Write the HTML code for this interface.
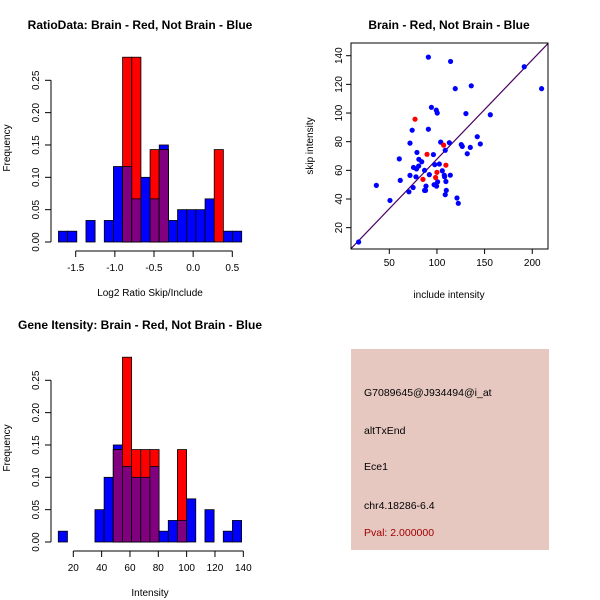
<!DOCTYPE html>
<html><head><meta charset="utf-8"><style>
body{margin:0;background:#fff;}
svg{display:block;font-family:"Liberation Sans",Arial,sans-serif;}
</style></head><body>
<svg id="chart" width="600" height="600" viewBox="0 0 600 600">
<rect width="600" height="600" fill="#fff"/>
<g>
<rect x="351" y="349" width="198" height="201" fill="#e6c8c1"/>
<text x="364" y="396" font-size="10.5">G7089645@J934494@i_at</text>
<text x="364" y="434" font-size="10.5">altTxEnd</text>
<text x="364" y="470" font-size="10.5">Ece1</text>
<text x="364" y="509" font-size="10.5">chr4.18286-6.4</text>
<text x="364" y="536" font-size="10.5" fill="#a00000">Pval: 2.000000</text>
</g>
</svg>
<script>
// Ratio histogram data
const ratioStart = -1.72, ratioWidth = 0.117;
const ratioBlue = [0.0167,0.0167,0,0.0333,0,0.0333,0.1167,0.1167,0.0667,0.1,0.0667,0.15,0.0333,0.05,0.05,0.05,0.0667,0,0.0167,0.0167];
const ratioRed  = [0,0,0,0,0,0,0,0.2857,0.2857,0,0.1429,0.1429,0,0,0,0,0,0.1429,0,0];
const ratioXTicks = [-1.5,-1.0,-0.5,0.0,0.5];
const ratioXLabels = ["-1.5","-1.0","-0.5","0.0","0.5"];
// Intensity histogram data
const intStart = 9.4, intWidth = 6.47;
const intBlue = [0.0167,0,0,0,0.05,0.1,0.15,0.1167,0.1,0.1,0.1167,0.0167,0.0333,0.0333,0.0667,0,0.05,0,0.0167,0.0333];
const intRed  = [0,0,0,0,0,0,0.1429,0.2857,0.1429,0.1429,0.1429,0,0,0.1429,0,0,0,0,0,0];
const intXTicks = [20,40,60,80,100,120,140];
const freqTicks = [0,0.05,0.10,0.15,0.20,0.25];
const freqLabels = ["0.00","0.05","0.10","0.15","0.20","0.25"];
// Scatter data
const blueX = [17.8,36.4,50.7,60.5,61.5,71.7,71.7,74,75,70.6,75.4,78,79,78.5,81,80.8,84,87,87,88.5,88,91,91,92,94.2,96.3,97.7,97,99.3,100.3,99.6,100.7,102.5,103.9,105.6,107.7,108,108.7,109.4,109.8,108.7,113,114,114.3,119.2,121,122.4,125.5,126.6,131.8,130.4,135,136,142.3,145.5,156,191.6,209.8];
const blueY = [10,49.5,39,68,53,56.5,79,88,48,45,62,55.5,72.5,61,67.7,63,66,60,46,49,46,139,88.7,57,104,71,64,50,102,100,49,52,64.4,79.7,59.7,56.6,55.5,74,52.2,46,43,79.3,56.6,136,117,40.7,37,78,76.7,71.6,99.6,76,119,83.5,78.4,98.8,132.3,117];
const redX = [77,89.6,85.3,98.6,100,107,109.4];
const redY = [95.7,71.2,53.7,55,58.6,77.6,63.6];
const lineX = [10, 216.5];
const lineY = [5.5, 148.5];
const scXTicks = [50,100,150,200];
const scYTicks = [20,40,60,80,100,120,140];

const svg = document.getElementById('chart');
const NS = 'http://www.w3.org/2000/svg';
function mk(tag, attrs, parent){const e=document.createElementNS(NS,tag);for(const k in attrs)e.setAttribute(k,attrs[k]);(parent||svg).appendChild(e);return e;}
function txt(s, attrs, parent){const e=mk('text',attrs,parent);e.textContent=s;return e;}

function histogram(cfg){
  const g = mk('g',{});
  
  
  const xs = v => cfg.x0px + (v - cfg.x0val) * cfg.xscale;
  const ys = v => cfg.y0px - v * cfg.yscale;
  const n = cfg.blue.length;
  for(let i=0;i<n;i++){
    const a = cfg.start + i*cfg.width, b = a + cfg.width;
    const x = xs(a), w = xs(b) - xs(a);
    const bv = cfg.blue[i], rv = cfg.red[i];
    if(bv>0){const r=mk('rect',{x:x,y:ys(bv),width:w,height:ys(0)-ys(bv),fill:'#0000ff',stroke:'#000','stroke-width':0.8},g);
      
      }
    if(rv>0){const r=mk('rect',{x:x,y:ys(rv),width:w,height:ys(0)-ys(rv),fill:'#ff0000',stroke:'#000','stroke-width':0.8},g);
      
      }
    const m = Math.min(bv,rv);
    if(m>0){const r=mk('rect',{x:x,y:ys(m),width:w,height:ys(0)-ys(m),fill:'#800080',stroke:'#000','stroke-width':0.8},g);
      
      }
  }
  const yax = mk('g',{},g);
  
  
  const ax = cfg.yAxisX;
  mk('line',{x1:ax,x2:ax,y1:ys(0),y2:ys(0.25),stroke:'#000'},yax);
  freqTicks.forEach((t,i)=>{
    mk('line',{x1:ax-6,x2:ax,y1:ys(t),y2:ys(t),stroke:'#000'},yax);
    const tx=ax-12, ty=ys(t);
    txt(freqLabels[i],{x:tx,y:ty,'font-size':10,'text-anchor':'middle',transform:`rotate(-90 ${tx} ${ty})`},yax);
  });
  const xax = mk('g',{},g);
  
  
  const ay = cfg.xAxisY;
  mk('line',{x1:xs(cfg.xticks[0]),x2:xs(cfg.xticks[cfg.xticks.length-1]),y1:ay,y2:ay,stroke:'#000'},xax);
  cfg.xticks.forEach((t,i)=>{
    mk('line',{x1:xs(t),x2:xs(t),y1:ay,y2:ay+6,stroke:'#000'},xax);
    txt(cfg.xlabels[i],{x:xs(t),y:ay+20,'font-size':10,'text-anchor':'middle'},xax);
  });
  const xt = txt(cfg.xtitle,{x:(cfg.xcenter),y:ay+45,'font-size':10,'text-anchor':'middle'},g);
  
  
  const yt = txt('Frequency',{x:10,y:cfg.ycenter,'font-size':10,'text-anchor':'middle',transform:`rotate(-90 10 ${cfg.ycenter})`},g);
  
  
  const tt = txt(cfg.title,{x:cfg.titleX,y:cfg.titleY,'font-size':12,'font-weight':'bold','text-anchor':'middle'},g);
  
  
}

histogram({name:'ratio-histogram',start:ratioStart,width:ratioWidth,blue:ratioBlue,red:ratioRed,
  x0val:-1.5,x0px:75.7,xscale:78.3,y0px:242,yscale:646.8,yAxisX:51,xAxisY:251,
  xticks:ratioXTicks,xlabels:ratioXLabels,xtitle:'Log2 Ratio Skip/Include',xcenter:150,ycenter:148,
  title:'RatioData: Brain - Red, Not Brain - Blue',titleX:140,titleY:29});
histogram({name:'intensity-histogram',start:intStart,width:intWidth,blue:intBlue,red:intRed,
  x0val:20,x0px:73.3,xscale:1.4167,y0px:542,yscale:646.8,yAxisX:51,xAxisY:551,
  xticks:intXTicks,xlabels:intXTicks.map(String),xtitle:'Intensity',xcenter:150,ycenter:448,
  title:'Gene Itensity: Brain - Red, Not Brain - Blue',titleX:140,titleY:329});

(function(){
  const g = mk('g',{});
  
  
  const xs = v => 389.3 + (v-50)*0.953;
  const ys = v => 55.7 - (v-140)*1.433;
  const L=351, R=548, T=43, B=249;
  const cp = mk('clipPath',{id:'scclip'},g);
  mk('rect',{x:L,y:T,width:R-L,height:B-T},cp);
  const dl = mk('line',{x1:xs(lineX[0]),y1:ys(lineY[0]),x2:xs(lineX[1]),y2:ys(lineY[1]),stroke:'#4b0060','stroke-width':1.2,'clip-path':'url(#scclip)'},g);
  
  
  mk('rect',{x:L,y:T,width:R-L,height:B-T,fill:'none',stroke:'#000'},g);
  blueX.forEach((v,i)=>{
    const c = mk('circle',{cx:xs(v),cy:ys(blueY[i]),r:2.6,fill:'#0000ff'},g);
    
    
  });
  redX.forEach((v,i)=>{
    const c = mk('circle',{cx:xs(v),cy:ys(redY[i]),r:2.6,fill:'#ff0000'},g);
    
    
  });
  const xax = mk('g',{},g);
  
  
  scXTicks.forEach(t=>{
    mk('line',{x1:xs(t),x2:xs(t),y1:B,y2:B+5,stroke:'#000'},xax);
    txt(String(t),{x:xs(t),y:B+17,'font-size':10,'text-anchor':'middle'},xax);
  });
  const yax = mk('g',{},g);
  
  
  scYTicks.forEach(t=>{
    mk('line',{x1:L-5,x2:L,y1:ys(t),y2:ys(t),stroke:'#000'},yax);
    const tx=L-9, ty=ys(t);
    txt(String(t),{x:tx,y:ty,'font-size':10,'text-anchor':'middle',transform:`rotate(-90 ${tx} ${ty})`},yax);
  });
  const xt = txt('include intensity',{x:449,y:298,'font-size':10,'text-anchor':'middle'},g);
  
  
  const yt = txt('skip intensity',{x:313,y:146,'font-size':10,'text-anchor':'middle',transform:'rotate(-90 313 146)'},g);
  
  
  const tt = txt('Brain - Red, Not Brain - Blue',{x:449,y:29,'font-size':12,'font-weight':'bold','text-anchor':'middle'},g);
  
  
})();
</script>
</body></html>
